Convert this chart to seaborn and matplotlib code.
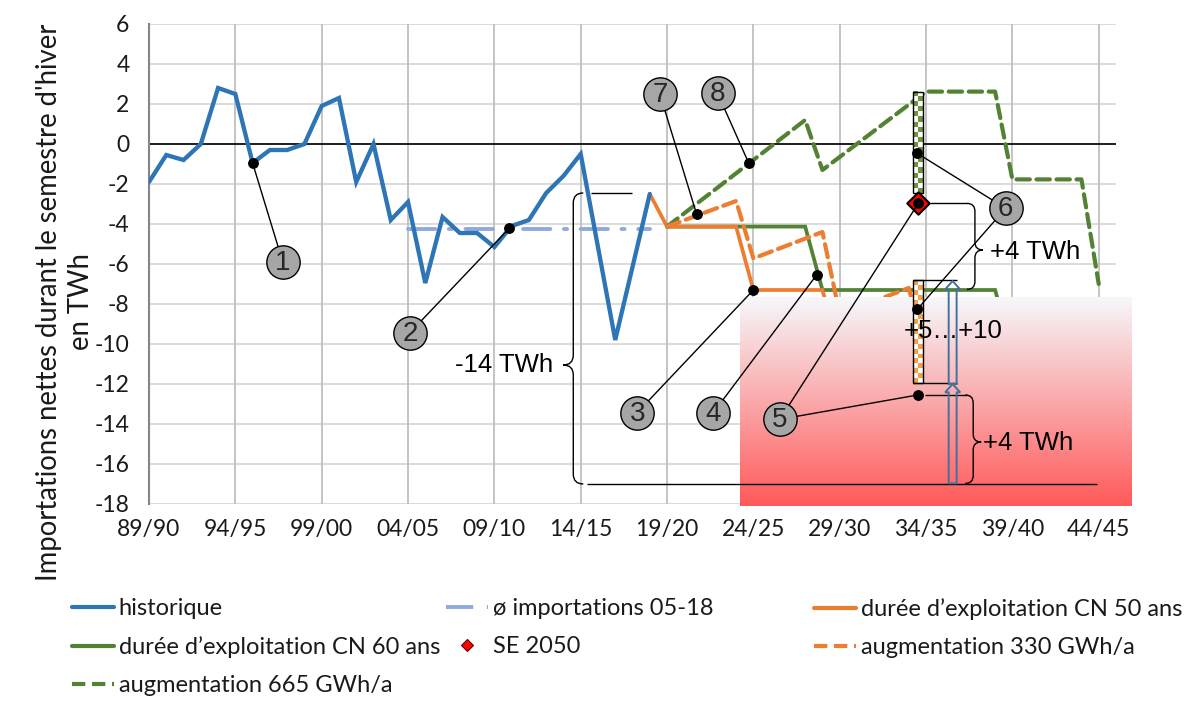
import numpy as np
import pandas as pd
import matplotlib
matplotlib.use("Agg")
import matplotlib.pyplot as plt
import seaborn as sns
from matplotlib.path import Path
from matplotlib.patches import PathPatch, Rectangle, FancyArrow
from matplotlib.lines import Line2D

# ------------------------------------------------------------------ data
hist_years = [1989, 1990, 1991, 1992, 1993, 1994, 1995, 1996, 1997, 1998,
              1999, 2000, 2001, 2002, 2003, 2004, 2005, 2006, 2007, 2008,
              2009, 2010, 2011, 2012, 2013, 2014, 2015, 2016, 2017, 2018]
hist_values = [-1.9, -0.55, -0.8, 0.0, 2.8, 2.5, -0.95, -0.3, -0.3, 0.0,
               1.9, 2.3, -1.9, 0.0, -3.8, -2.9, -6.95, -3.65, -4.45, -4.45,
               -5.15, -4.1, -3.8, -2.45, -1.6, -0.5, -5.15, -9.8, -6.15, -2.5]

avg_years = [2004, 2018]
avg_values = [-4.27, -4.27]

cn50_years = [2018, 2019, 2023, 2024, 2028, 2029]
cn50_values = [-2.5, -4.13, -4.13, -7.3, -7.3, -10.4]

cn60_years = [2019, 2027, 2028, 2038, 2039]
cn60_values = [-4.13, -4.13, -7.3, -7.3, -10.4]

aug330_years = [2019, 2023, 2024, 2028, 2029, 2033, 2034]
aug330_values = [-4.13, -2.85, -5.72, -4.4, -8.5, -7.2, -10.5]

aug665_years = [2019, 2027, 2028, 2034, 2038, 2039, 2043, 2044]
aug665_values = [-4.13, 1.2, -1.3, 2.62, 2.62, -1.77, -1.77, -7.0]

se2050_year = [2033.55]
se2050_value = [-2.97]

bar_x = 2033.53
bar_green = [2.6, -2.47]      # top, bottom
bar_orange = [-6.8, -11.95]   # top, bottom

tick_years = [1989, 1994, 1999, 2004, 2009, 2014, 2019, 2024, 2029, 2034, 2039, 2044]
tick_labels = ["89/90", "94/95", "99/00", "04/05", "09/10", "14/15",
               "19/20", "24/25", "29/30", "34/35", "39/40", "44/45"]
y_ticks = [6, 4, 2, 0, -2, -4, -6, -8, -10, -12, -14, -16, -18]

# numbered call-outs: label, circle position, target dots
callout_labels = ["1", "2", "3", "4", "5", "6", "7", "8"]
callout_x = [1996.74, 2004.11, 2017.27, 2021.68, 2025.54, 2038.61, 2018.59, 2021.93]
callout_y = [-5.885, -9.435, -13.435, -13.435, -13.765, -3.215, 2.485, 2.535]
callout_targets = [
    [(1995.0, -0.95)],
    [(2009.86, -4.215)],
    [(2024.0, -7.3)],
    [(2027.66, -6.55)],
    [(2033.55, -2.97), (2033.51, -12.55)],
    [(2033.49, -0.465), (2033.49, -8.265)],
    [(2020.71, -3.5)],
    [(2023.72, -0.935)],
]

C_HIST = "#2e75b6"
C_AVG = "#8faadc"
C_ORANGE = "#ed7d31"
C_GREEN = "#548235"

# ------------------------------------------------------------------ figure
sns.set_theme(style="white")
plt.rcParams['font.family'] = ['Lato', 'DejaVu Sans']

fig = plt.figure(figsize=(11.84, 7.08), dpi=100)
ax = fig.add_axes([149 / 1184, 1 - 504 / 708, (1116 - 149) / 1184, 480 / 708])

XMIN, XMAX, YMIN, YMAX = 1989, 2045, -18, 6

# grid
for yv in y_ticks:
    ax.axhline(yv, color="#d9d9d9", lw=1.3, zorder=0.5)
for xv in tick_years:
    ax.axvline(xv, color="#bfbfbf", lw=1.3, zorder=0.6)
ax.axhline(0, color="black", lw=1.2, zorder=1)


def sline(xs, ys, color, lw, dashes=None, z=2):
    sns.lineplot(x=xs, y=ys, ax=ax, color=color, linewidth=lw, sort=False,
                 estimator=None, zorder=z)
    ln = ax.lines[-1]
    ln.set_solid_joinstyle("miter")
    if dashes is not None:
        ln.set_dashes(dashes)
        ln.set_dash_capstyle("round")
    return ln


sline(hist_years, hist_values, C_HIST, 3.1, z=3)
sline(avg_years, avg_values, C_AVG, 2.8, dashes=[7, 3.5, 0.8, 3.5], z=2.2)
sline(cn60_years, cn60_values, C_GREEN, 2.7, z=2.3)
sline(cn50_years, cn50_values, C_ORANGE, 2.7, z=2.4)
sline(aug665_years, aug665_values, C_GREEN, 3.0, dashes=[3.2, 1.6], z=2.5)
sline(aug330_years, aug330_values, C_ORANGE, 3.0, dashes=[3.2, 1.6], z=2.6)

# red gradient zone
grad = np.linspace(0, 1, 256).reshape(-1, 1)
top_c = np.array([0.965, 0.972, 0.985])
bot_c = np.array([1.0, 0.35, 0.35])
img = top_c[None, None, :] * (1 - grad[:, :, None]) + bot_c[None, None, :] * grad[:, :, None]
ax.imshow(img, extent=[2023.22, 2045.92, -18.08, -7.65], origin="upper",
          aspect="auto", zorder=4, clip_on=False, interpolation="bilinear")

# SE 2050 marker
sns.scatterplot(x=se2050_year, y=se2050_value, ax=ax, marker="D", s=130,
                color="red", edgecolor="black", linewidth=1.5, zorder=6.5)


# checker bars
def checker_bar(x, top, bot, color, z):
    w = 0.58
    nrows = int(round((top - bot) * 20 / 5))
    arr = np.zeros((nrows, 2, 3))
    col = np.array(matplotlib.colors.to_rgb(color))
    for r in range(nrows):
        for c in range(2):
            arr[r, c] = col if (r + c) % 2 == 0 else np.array([1, 1, 1])
    ax.imshow(arr, extent=[x - w / 2, x + w / 2, bot, top], origin="upper",
              aspect="auto", interpolation="nearest", zorder=z)
    ax.add_patch(Rectangle((x - w / 2, bot), w, top - bot, fill=False,
                           ec="black", lw=1.0, zorder=z + 0.1))


checker_bar(bar_x, bar_green[0], bar_green[1], "#70913f", 6)
checker_bar(bar_x, bar_orange[0], bar_orange[1], "#f4a04a", 6)


# braces
def brace(x, y_top, y_bot, y_tip, rx, ry, tip_dir):
    s = tip_dir
    verts = [(x - s * rx, y_top), (x, y_top), (x, y_top - ry),
             (x, y_tip + ry), (x, y_tip), (x + s * rx, y_tip),
             (x, y_tip), (x, y_tip - ry),
             (x, y_bot + ry), (x, y_bot), (x - s * rx, y_bot)]
    codes = [Path.MOVETO, Path.CURVE3, Path.CURVE3, Path.LINETO,
             Path.CURVE3, Path.CURVE3, Path.CURVE3, Path.CURVE3,
             Path.LINETO, Path.CURVE3, Path.CURVE3]
    ax.add_patch(PathPatch(Path(verts, codes), fill=False, ec="black",
                           lw=1.0, zorder=7, clip_on=False))


brace(2013.57, -2.45, -17.0, -11.05, 0.58, 0.5, -1)
brace(2036.83, -2.97, -7.27, -5.3, 0.46, 0.4, 1)
brace(2036.73, -12.55, -16.97, -14.9, 0.46, 0.4, 1)

# helper lines
seg_kw = dict(color="black", lw=1.0, zorder=7, solid_capstyle="butt")
ax.plot([2014.59, 2016.96], [-2.45, -2.45], **seg_kw)
ax.plot([2014.36, 2043.89], [-17.0, -17.0], **seg_kw)
ax.plot([2034.22, 2036.37], [-2.97, -2.97], **seg_kw)
ax.plot([2033.24, 2035.79], [-6.8, -6.8], **seg_kw)
ax.plot([2033.24, 2035.79], [-11.95, -11.95], **seg_kw)
ax.plot([2033.93, 2036.37], [-12.55, -12.55], **seg_kw)

# hollow arrows
for y0, y1 in [(-16.97, -12.0), (-12.0, -6.85)]:
    ax.add_patch(FancyArrow(2035.54, y0, 0, y1 - y0, width=0.46, head_width=0.87,
                            head_length=0.42, length_includes_head=True,
                            fc="none", ec="#41719c", lw=1.4, zorder=7.5))

# call-outs
for lab, cx, cy, targets in zip(callout_labels, callout_x, callout_y, callout_targets):
    for tx, ty in targets:
        ax.plot([cx, tx], [cy, ty], color="black", lw=1.0, zorder=8)
        ax.plot([tx], [ty], marker="o", ms=6.8, color="black", ls="none", zorder=9)
    ax.plot([cx], [cy], marker="o", ms=24, mfc="#a6a6a6", mec="black", mew=1.0,
            ls="none", zorder=9.5)
    ax.text(cx, cy - 0.05, lab, ha="center", va="center", fontsize=20,
            family=["Liberation Sans", "DejaVu Sans"], zorder=10)

# annotation texts
ann_kw = dict(fontsize=18.5, family=["Liberation Sans", "DejaVu Sans"], zorder=10,
              color="black")
ax.text(2009.55, -11.05, "-14 TWh", ha="center", va="center", **ann_kw)
ax.text(2037.7, -5.4, "+4 TWh", ha="left", va="center", **ann_kw)
ax.text(2035.55, -9.35, "+5…+10", ha="center", va="center", **ann_kw)
ax.text(2037.3, -14.95, "+4 TWh", ha="left", va="center", **ann_kw)

# axes styling
ax.set_xlim(XMIN, XMAX)
ax.set_ylim(YMIN, YMAX)
ax.set_xticks(tick_years)
ax.set_xticklabels(tick_labels)
ax.set_yticks(y_ticks)
ax.set_yticklabels([str(v) for v in y_ticks])
ax.tick_params(axis="both", length=0, labelsize=16.5, colors="#1a1a1a")
ax.tick_params(axis="y", pad=14)
ax.tick_params(axis="x", pad=11)
ax.set_xlabel("")
ax.set_ylabel("")
for sp in ["top", "right", "bottom"]:
    ax.spines[sp].set_visible(False)
ax.spines["left"].set_color("#868686")
ax.spines["left"].set_linewidth(1.5)
ax.spines["left"].set_zorder(1.5)
ax.set_facecolor("white")

fig.text(65 / 1184, 1 - 302 / 708,
         "Importations nettes durant le semestre d'hiver\nen TWh",
         rotation=90, ha="center", va="center", fontsize=19.8, linespacing=1.3,
         multialignment="center", color="#1a1a1a")

# legend (three columns)
h_hist = Line2D([], [], color=C_HIST, lw=3)
h_avg = Line2D([], [], color=C_AVG, lw=2.8, dashes=[7, 3.5, 0.8, 3.5])
h_cn50 = Line2D([], [], color=C_ORANGE, lw=3)
h_cn60 = Line2D([], [], color=C_GREEN, lw=3)
h_se = Line2D([], [], ls="none", marker="D", ms=6, mfc="red", mec="#600000", mew=0.8)
h_330 = Line2D([], [], color=C_ORANGE, lw=3, dashes=[3.2, 1.6])
h_665 = Line2D([], [], color=C_GREEN, lw=3, dashes=[3.2, 1.6])

leg_kw = dict(frameon=False, prop={"family": ["Lato", "DejaVu Sans"], "size": 17},
              handlelength=1.78, handletextpad=0.2, labelspacing=0.72,
              borderpad=0, borderaxespad=0, loc="upper left",
              labelcolor="#1a1a1a")
fig.legend([h_hist, h_cn60, h_665],
           ["historique", "durée d’exploitation CN 60 ans", "augmentation 665 GWh/a"],
           bbox_to_anchor=(72 / 1184, 1 - 598 / 708), **leg_kw)
fig.legend([h_avg, h_se], ["ø importations 05-18", "SE 2050"],
           bbox_to_anchor=(446 / 1184, 1 - 598 / 708), **leg_kw)
fig.legend([h_cn50, h_330], ["durée d’exploitation CN 50 ans", "augmentation 330 GWh/a"],
           bbox_to_anchor=(814 / 1184, 1 - 598 / 708), **leg_kw)

fig.savefig("out.png", dpi=100, facecolor="white")
